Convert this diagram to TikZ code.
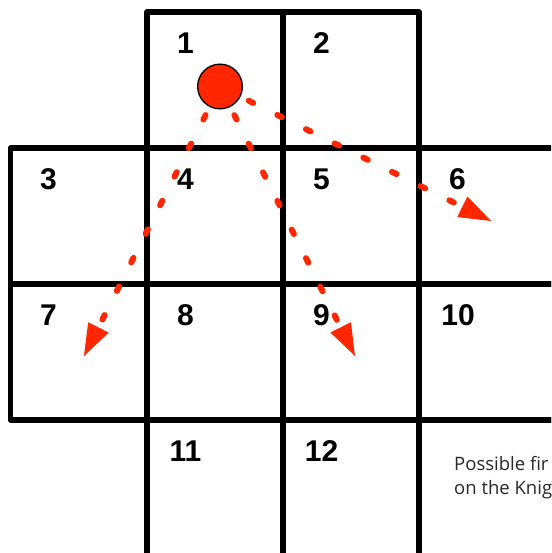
\documentclass[tikz,border=0pt]{standalone}
\usepackage{fontspec}
\setmainfont{Liberation Sans}
\newfontfamily\capfont{Open Sans}
\usetikzlibrary{arrows.meta}
\definecolor{kred}{RGB}{255,38,0}
\definecolor{notegray}{RGB}{40,40,40}
\begin{document}
\begin{tikzpicture}[x=1pt,y=-1pt,
  cell/.style={draw=black,line width=5.5pt,line join=round,minimum width=136pt,minimum height=136pt,inner sep=0pt,outer sep=0pt},
  num/.style={font=\fontsize{30}{30}\selectfont\bfseries,anchor=base,inner sep=0pt},
  knight/.style={circle,fill=kred,draw=black,line width=1.3pt,minimum size=44.7pt,inner sep=0pt},
  move/.style={draw=kred,line width=6pt,line cap=round,dash pattern=on 5pt off 27pt,shorten <=9pt,-{Triangle[length=32pt,width=23pt,line width=0pt]}},
  note/.style={font=\capfont\fontsize{18.5}{24}\selectfont,text=notegray,anchor=base west,inner sep=0pt}]
\useasboundingbox (0,0) rectangle (551,553);
\clip (0,0) rectangle (551,553);
% cells
\node[cell] (c1) at (215,80) {};
\node[cell] (c2) at (351,80) {};
\node[cell] (c3) at (78.5,216) {};
\node[cell] (c4) at (215,216) {};
\node[cell] (c5) at (351,216) {};
\node[cell] (c6) at (487,216) {};
\node[cell] (c7) at (78.5,352) {};
\node[cell] (c8) at (215,352) {};
\node[cell] (c9) at (351,352) {};
\node[cell] (c10) at (487,352) {};
\node[cell] (c11) at (215,488) {};
\node[cell] (c12) at (351,488) {};
\node[cell] (c13) at (487,488) {};
% numbers
\node[num] (n1) at (185.5,53.5) {1};
\node[num] (n2) at (321.5,53.5) {2};
\node[num] (n3) at (48.5,189.5) {3};
\node[num] (n4) at (185.5,189.5) {4};
\node[num] (n5) at (321.5,189.5) {5};
\node[num] (n6) at (457.5,189.5) {6};
\node[num] (n7) at (48.5,325.5) {7};
\node[num] (n8) at (185.5,325.5) {8};
\node[num] (n9) at (321.5,325.5) {9};
\node[num] (n10) at (458,325.5) {10};
\node[num] (n11) at (185.5,461.5) {11};
\node[num] (n12) at (321.5,461.5) {12};
% caption
\node[note] (cap1) at (454,470) {Possible fir};
\node[note] (cap2) at (454,494) {on the Knig};
% knight and moves
\node[knight] (k) at (220,86.5) {};
\coordinate (t6) at (491,221);
\coordinate (t7) at (84,356);
\coordinate (t9) at (355,356);
\draw[move] (k) -- (t6);
\draw[move] (k) -- (t7);
\draw[move] (k) -- (t9);
\end{tikzpicture}
\end{document}
